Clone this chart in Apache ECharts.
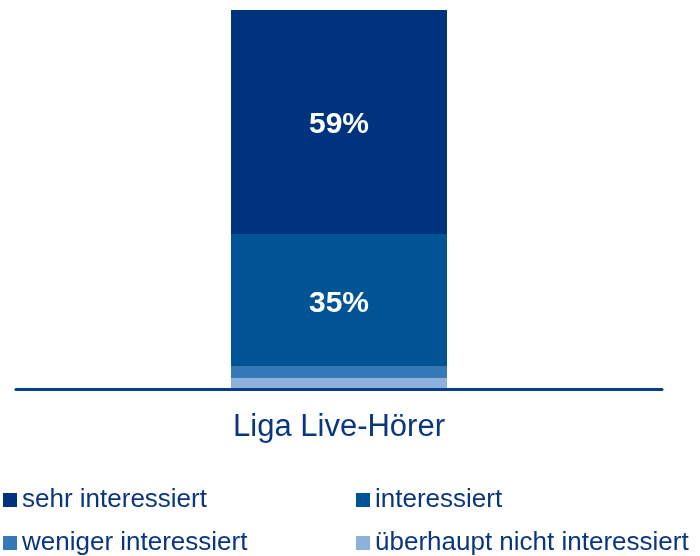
<!DOCTYPE html>
<html>
<head>
<meta charset="utf-8">
<script src="https://cdn.jsdelivr.net/npm/echarts@6/dist/echarts.min.js"></script>
<style>
  html, body { margin: 0; padding: 0; background: #fff; }
  #main { width: 700px; height: 556px; }
</style>
</head>
<body>
<div id="main"></div>
<script>
// data
var categories = ['Liga Live-Hörer'];
var seriesNames = ['sehr interessiert', 'interessiert', 'weniger interessiert', 'überhaupt nicht interessiert'];
var sehrVals = [59];
var interVals = [35];
var wenigerVals = [3];
var garNichtVals = [3];
var showLabel = [true, true, false, false];

var colors = ['#00337d', '#005495', '#3679b9', '#8cb1da'];
var textBlue = '#0a3680';

var chart = echarts.init(document.getElementById('main'));

function mkSeries(name, vals, i) {
    return {
        name: name,
        type: 'bar',
        stack: 'total',
        barWidth: 216,
        data: vals,
        itemStyle: { color: colors[i] },
        label: {
            show: showLabel[i],
            position: 'inside',
            offset: [0, 3],
            formatter: '{c}%',
            color: '#fff',
            fontWeight: 'bold',
            fontSize: 30,
            fontFamily: 'Liberation Sans, Arial, sans-serif'
        }
    };
}

function mkLegend(name, left, top) {
    return {
        data: [name],
        left: left,
        top: top,
        icon: 'rect',
        itemWidth: 14,
        itemHeight: 14,
        selectedMode: false,
        padding: 0,
        textStyle: {
            color: textBlue,
            fontSize: 26,
            fontFamily: 'Liberation Sans, Arial, sans-serif'
        }
    };
}

var option = {
    animation: false,
    grid: { left: 16, right: 38, top: 10, bottom: 166.5, containLabel: false },
    legend: [
        mkLegend(seriesNames[0], 3, 487),
        mkLegend(seriesNames[1], 356, 487),
        mkLegend(seriesNames[2], 3, 530),
        mkLegend(seriesNames[3], 356, 530)
    ],
    xAxis: {
        type: 'category',
        data: categories,
        z: 5,
        axisLine: { lineStyle: { color: '#063d8c', width: 3 } },
        axisTick: { show: false },
        axisLabel: {
            margin: 22,
            color: textBlue,
            fontSize: 31,
            fontFamily: 'Liberation Sans, Arial, sans-serif'
        }
    },
    yAxis: {
        type: 'value',
        min: 0,
        max: 100,
        show: false,
        splitLine: { show: false }
    },
    // bottom of the stack first
    series: [
        mkSeries(seriesNames[3], garNichtVals, 3),
        mkSeries(seriesNames[2], wenigerVals, 2),
        mkSeries(seriesNames[1], interVals, 1),
        mkSeries(seriesNames[0], sehrVals, 0)
    ]
};

chart.setOption(option);
</script>
</body>
</html>
